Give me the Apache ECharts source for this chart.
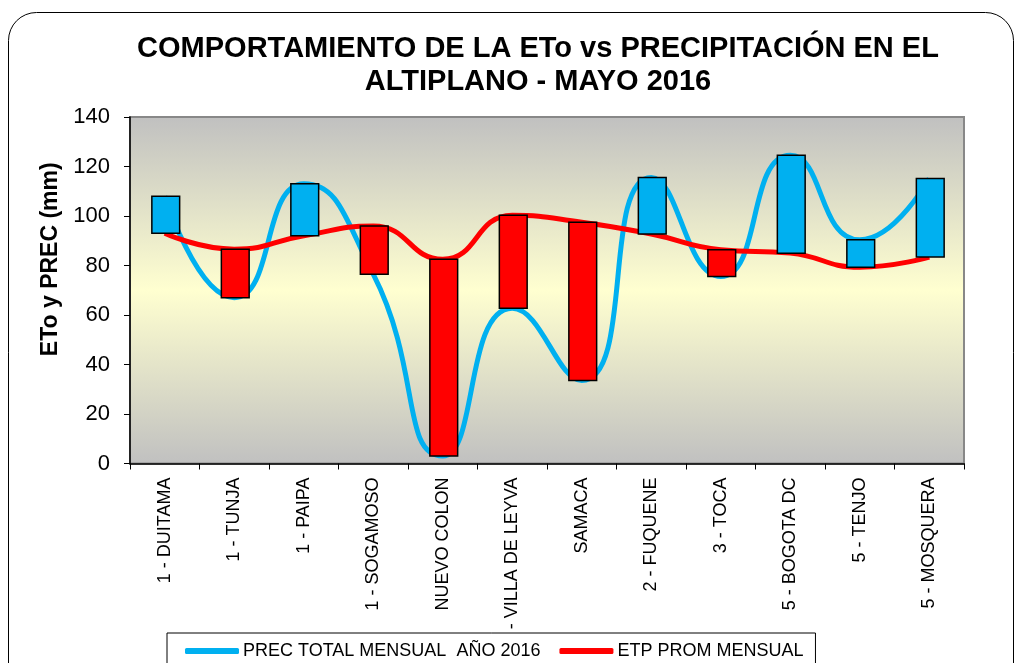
<!DOCTYPE html>
<html>
<head>
<meta charset="utf-8">
<script src="https://cdn.jsdelivr.net/npm/echarts@6/dist/echarts.min.js"></script>
<style>
  html, body { margin: 0; padding: 0; background: #fff; }
  #chart { width: 1019px; height: 663px; }
</style>
</head>
<body>
<div id="chart"></div>
<script>
const categories = ['1 - DUITAMA', '1 - TUNJA', '1 - PAIPA', '1 - SOGAMOSO', 'NUEVO COLON', '1 - VILLA DE LEYVA',
  'SAMACA', '2 - FUQUENE', '3 - TOCA', '5 - BOGOTA DC', '5 - TENJO', '5 - MOSQUERA']
const prec = [108, 67, 113, 76.5, 3, 62.7, 33.5, 115.6, 75.6, 124.5, 90.4, 115.2]
const etp = [93, 86.6, 92, 96, 82.5, 100.3, 97.5, 92.7, 86.4, 85, 79.3, 83.4]
const yTicks = { min: 0, max: 140, interval: 20 }

const C = { blue: '#00b0f0', red: '#ff0000', axis: '#000', frame: '#888' }
const FONT = 'Arial, "Liberation Sans", sans-serif'

// one floating bar per station, from the lower to the higher of the two values
const barData = categories.map((c, i) => [i, Math.min(prec[i], etp[i]), Math.max(prec[i], etp[i]), prec[i] > etp[i] ? 1 : 0])

function renderBar(params, api) {
  const i = api.value(0)
  const lo = api.coord([i, api.value(1)])
  const hi = api.coord([i, api.value(2)])
  const w = api.size([1, 0])[0] * 0.4
  return {
    type: 'rect',
    shape: { x: lo[0] - w / 2 + 1, y: hi[1], width: w, height: lo[1] - hi[1] },
    style: { fill: api.value(3) ? C.blue : C.red, stroke: '#000', lineWidth: 1.5 },
  }
}

const chart = echarts.init(document.getElementById('chart'), null, { renderer: 'canvas' })
chart.setOption({
  animation: false,
  textStyle: { fontFamily: FONT },
  graphic: [{
    type: 'rect', z: -10,
    shape: { x: 8.5, y: 12.5, width: 1005, height: 720, r: 28 },
    style: { fill: 'none', stroke: '#000', lineWidth: 1 },
  }],
  title: {
    text: 'COMPORTAMIENTO DE LA ETo vs PRECIPITACIÓN EN EL\nALTIPLANO - MAYO 2016',
    left: 533, top: 27, textAlign: 'center',
    textStyle: { fontFamily: FONT, fontSize: 29, fontWeight: 'bold', color: '#000', lineHeight: 33 },
  },
  grid: {
    left: 130, right: 55, top: 117, bottom: 199.5,
    show: true, borderColor: C.frame, borderWidth: 2,
    backgroundColor: new echarts.graphic.LinearGradient(0, 0, 0, 1, [
      { offset: 0, color: '#c0c0c0' },
      { offset: 0.5, color: '#ffffd0' },
      { offset: 1, color: '#c0c0c0' },
    ]),
  },
  legend: {
    data: ['PREC TOTAL MENSUAL  AÑO 2016', 'ETP PROM MENSUAL'],
    left: 167, top: 633,
    padding: [9, 12, 30, 18],
    itemGap: 19, itemWidth: 54, itemHeight: 6,
    icon: 'roundRect',
    backgroundColor: '#fff', borderColor: '#000', borderWidth: 1,
    textStyle: { fontFamily: FONT, fontSize: 18, color: '#000', padding: [0, 0, 0, -1] },
  },
  xAxis: {
    type: 'category',
    data: categories,
    axisLine: { lineStyle: { color: C.axis, width: 1.5 } },
    axisTick: { show: true, length: 6, lineStyle: { color: C.axis } },
    axisLabel: { rotate: 90, margin: 14, fontSize: 18, color: '#000', fontFamily: FONT },
    splitLine: { show: false },
  },
  yAxis: {
    type: 'value',
    ...yTicks,
    name: 'ETo y PREC (mm)',
    nameLocation: 'middle', nameGap: 58, nameRotate: 90,
    nameTextStyle: { fontFamily: FONT, fontSize: 23, fontWeight: 'bold', color: '#000', padding: [0, 0, 0, 62] },
    axisLine: { show: true, lineStyle: { color: C.axis, width: 1.5 } },
    axisTick: { show: true, length: 6, lineStyle: { color: C.axis } },
    axisLabel: { margin: 20, fontSize: 22, color: '#000', fontFamily: FONT },
    splitLine: { show: false },
  },
  series: [
    {
      name: 'PREC TOTAL MENSUAL  AÑO 2016', type: 'line', data: prec,
      smooth: 0.55, symbol: 'none', z: 2,
      lineStyle: { color: C.blue, width: 5 }, itemStyle: { color: C.blue },
    },
    {
      name: 'ETP PROM MENSUAL', type: 'line', data: etp,
      smooth: 0.5, symbol: 'none', z: 3,
      lineStyle: { color: C.red, width: 5 }, itemStyle: { color: C.red },
    },
    {
      name: 'diff', type: 'custom', data: barData, z: 5,
      encode: { x: 0, y: [1, 2] },
      renderItem: renderBar,
    },
  ],
})
</script>
</body>
</html>
